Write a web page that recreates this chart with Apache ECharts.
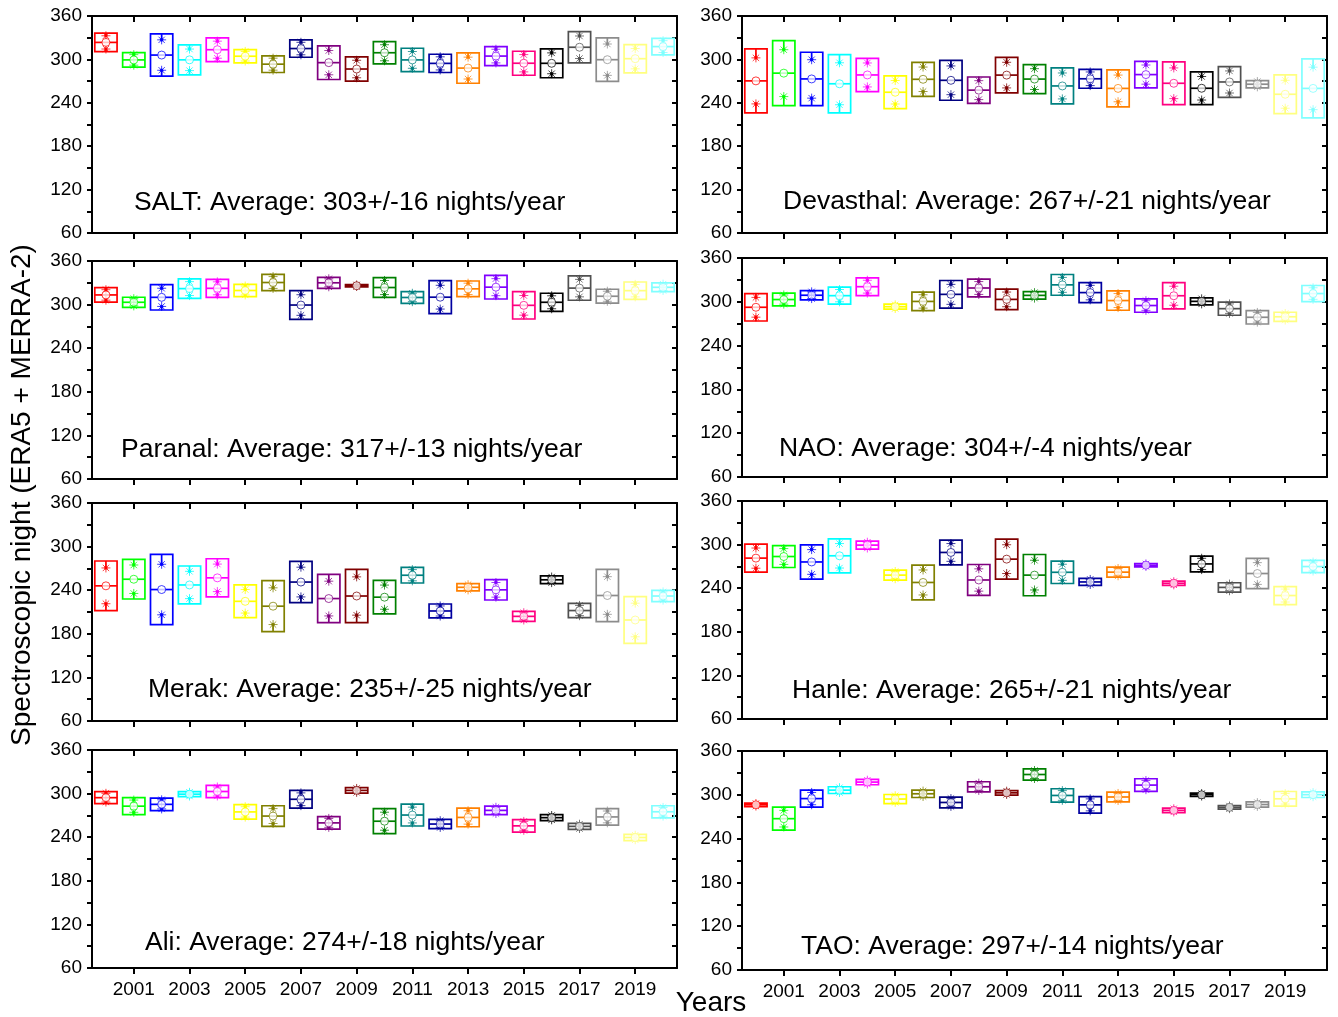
<!DOCTYPE html>
<html><head><meta charset="utf-8">
<script src="https://cdn.jsdelivr.net/npm/echarts@6/dist/echarts.min.js"></script>
<style>html,body{margin:0;padding:0;background:#fff}#c{width:1338px;height:1017px}</style>
</head><body><div id="c"></div>
<script>
// ---------------- data ----------------
const years = ['2000','2001','2002','2003','2004','2005','2006','2007','2008','2009','2010',
               '2011','2012','2013','2014','2015','2016','2017','2018','2019','2020'];
const yTickLabels = [60, 120, 180, 240, 300, 360];
const boxColors = ['#FF0000','#00FF00','#0000FF','#00FFFF','#FF00FF','#FFFF00','#808000','#000080',
                   '#800080','#800000','#008000','#008080','#0000A0','#FF8000','#8000FF','#FF0080',
                   '#000000','#505050','#8C8C8C','#FFFF80','#80FFFF'];

// mean (circle / median line) and half box height (+/- spread) per year
const saltMean = [323.5,299.3,306,299.4,313.4,304.4,293.4,315,295.5,286.7,309.2,299.3,294.5,288,304.6,294.7,294.6,316.8,299.6,301,317.7];
const saltSd   = [12.7,10.1,29.2,20.7,16.4,9.2,11.5,12,23.3,16.8,15.4,16.1,12.6,21,13.1,16.6,20,21.6,30.1,19.5,11.4];
const devMean  = [270.3,281,273,266.3,278.5,254.6,272.5,271.1,257.5,278.3,272.8,263.3,273.2,259.9,279,267,260.1,268.8,265.7,251.8,259.9];
const devSd    = [44.2,45,36.9,40.3,23,22.6,23.5,27.6,18.2,24.6,20,24.9,13.1,25.6,18.4,29.5,22.6,21.2,5,26.8,40.8];
const parMean  = [313.3,303.2,310,322,322.4,319.4,330.4,299.4,330,326,323.5,309.8,310.2,321.7,324,299,303.2,322.7,311.5,319.2,323.8];
const parSd    = [10,6.9,17.4,13.3,12.4,8.5,11.3,19.7,7.6,1.5,13.5,8,22.7,10.8,16.3,18.8,12.4,16.7,9.6,11.9,6];
const naoMean  = [292.5,303.1,309,308.4,320.7,293.3,300.5,310.2,318.9,303.3,308.8,323.2,312.6,301.7,294.9,308.3,300.6,290.6,278.8,279.5,311.3];
const naoSd    = [18.8,8.7,6.4,11.7,12.2,3.4,12.7,19,12.2,14,5.2,14.2,13.8,13.3,9.2,18.1,4.8,9,9.2,6.2,11];
const merMean  = [246,255.1,240.9,247.2,257,224.7,218,251.2,228.5,232,230.4,260.6,211.4,244,240.5,204,254.3,212,232.7,199,232];
const merSd    = [34.2,27.2,48.3,26.1,26.3,22.5,35.1,28.4,33.2,36.6,23.1,10.7,9.6,5,14,6.9,5.3,9.8,36,32.1,7.8];
const hanMean  = [281.4,283.6,276.1,284.6,299.3,258,247.9,289.2,251.3,280,258,261.9,248.6,262.1,271.7,246.8,273.4,241.1,260.2,229.9,269.8];
const hanSd    = [19.3,15.1,23.6,23.4,5.5,6.9,23.9,17,21.3,27.5,28.4,15.4,4.8,6.9,2.3,3,10.8,6.4,20.8,12.4,8.5];
const aliMean  = [294.4,282.7,285.2,299.2,302.9,274.8,269.1,292.2,259.7,304.4,262,270.5,258.1,267.2,276.9,255.6,266.9,254.9,267.9,239.6,275];
const aliSd    = [8.3,11.7,8.7,3.5,8.5,9.9,14.2,12.2,8.5,3.7,17.2,15.1,6.4,12.8,5.9,8.5,4.1,4.1,11.3,4.3,8.3];
const taoMean  = [286.3,267.3,294.8,306.4,317.4,294.2,301.4,289.5,311,302.7,327.8,299.1,286.2,297,313.3,278.7,300,282.8,286.7,294.5,300.2];
const taoSd    = [2.4,15.8,11.7,4.6,3.6,6.2,5.1,7.4,6.9,3.1,7.6,9.2,11.4,6.7,8.7,3,2.3,2.5,3.6,10,3.9];

const panelLabels = ['SALT: Average: 303+/-16 nights/year','Devasthal: Average: 267+/-21 nights/year',
                     'Paranal: Average: 317+/-13 nights/year','NAO: Average: 304+/-4 nights/year',
                     'Merak: Average: 235+/-25 nights/year','Hanle: Average: 265+/-21 nights/year',
                     'Ali: Average: 274+/-18 nights/year','TAO: Average: 297+/-14 nights/year'];
const yTitle = 'Spectroscopic night (ERA5 + MERRA-2)';
const xTitle = 'Years';

// ---------------- layout ----------------
const FONT = '"Liberation Sans", Arial, sans-serif';
const panelData = [[saltMean,saltSd],[devMean,devSd],[parMean,parSd],[naoMean,naoSd],
                   [merMean,merSd],[hanMean,hanSd],[aliMean,aliSd],[taoMean,taoSd]];
const layout = [
  {left:92, top:16, width:585, height:217, lx:134, ly:203},
  {left:742, top:16, width:585, height:217, lx:783, ly:202},
  {left:92, top:261, width:585, height:218, lx:121, ly:450},
  {left:742, top:258, width:585, height:219, lx:779, ly:449},
  {left:92, top:503, width:585, height:218, lx:148, ly:690},
  {left:742, top:501, width:585, height:218, lx:792, ly:691},
  {left:92, top:750, width:585, height:218, lx:145, ly:943},
  {left:742, top:751, width:585, height:219, lx:801, ly:947}
];

function star(cx, cy, col) {
  const r = 4.5, out = [];
  for (let k = 0; k < 4; k++) {
    const a = k * Math.PI / 4;
    out.push({type:'line', shape:{x1:cx - r*Math.cos(a), y1:cy - r*Math.sin(a), x2:cx + r*Math.cos(a), y2:cy + r*Math.sin(a)},
              style:{stroke:col, lineWidth:1, opacity:0.75}});
  }
  out.push({type:'circle', shape:{cx:cx, cy:cy, r:1.8}, style:{fill:col, opacity:0.9}});
  return out;
}

function renderBox(params, api) {
  const i = api.value(0), m = api.value(1), s = api.value(2);
  const col = boxColors[i];
  const c = api.coord([i, m]);
  const t = api.coord([i, m + s])[1];
  const b = api.coord([i, m - s])[1];
  const st = api.coord([i, m + 0.72 * s])[1];
  const sb = api.coord([i, m - 0.72 * s])[1];
  const w = api.size([1, 0])[0] * 0.8;
  const x0 = c[0] - w / 2;
  const lw = 1.7;
  let children = [
    {type:'rect', shape:{x:x0, y:t, width:w, height:Math.max(b - t, 0.5)}, style:{fill:'none', stroke:col, lineWidth:lw}},
    {type:'line', shape:{x1:x0, y1:c[1], x2:x0 + w, y2:c[1]}, style:{stroke:col, lineWidth:lw}},
    {type:'line', shape:{x1:c[0], y1:t, x2:c[0], y2:st}, style:{stroke:col, lineWidth:lw}},
    {type:'line', shape:{x1:c[0], y1:b, x2:c[0], y2:sb}, style:{stroke:col, lineWidth:lw}}
  ];
  children = children.concat(star(c[0], st, col), star(c[0], sb, col));
  children.push({type:'circle', shape:{cx:c[0], cy:c[1], r:4}, style:{fill:'#fff', stroke:col, lineWidth:1, opacity:0.75}});
  return {type:'group', children:children};
}

const grids = [], xAxes = [], yAxes = [], series = [], graphics = [];
const oddYear = (idx) => idx % 2 === 1;
layout.forEach((L, p) => {
  grids.push({left:L.left, top:L.top, width:L.width, height:L.height, containLabel:false, outerBoundsMode:'none'});
  const axLine = {show:true, lineStyle:{color:'#000', width:2}};
  xAxes.push({gridIndex:p, type:'category', data:years, position:'bottom', boundaryGap:true,
    axisLine:axLine,
    axisTick:{show:true, inside:false, length:6, alignWithLabel:true, interval:oddYear, lineStyle:{color:'#000', width:2}},
    axisLabel:{show:p >= 6, interval:oddYear, color:'#000', fontSize:19, fontFamily:FONT, margin:12, hideOverlap:false},
    splitLine:{show:false}});
  xAxes.push({gridIndex:p, type:'category', data:years, position:'top', boundaryGap:true,
    axisLine:axLine,
    axisTick:{show:true, inside:true, length:6, alignWithLabel:true, interval:oddYear, lineStyle:{color:'#000', width:2}},
    axisLabel:{show:false}, splitLine:{show:false}});
  yAxes.push({gridIndex:p, type:'value', min:60, max:360, interval:30, position:'left',
    axisLine:axLine,
    axisTick:{show:true, inside:false, length:5, lineStyle:{color:'#000', width:2}},
    axisLabel:{color:'#000', fontSize:19, fontFamily:FONT, margin:10, hideOverlap:false,
               formatter:(v) => yTickLabels.includes(v) ? String(v) : ''},
    splitLine:{show:false}});
  yAxes.push({gridIndex:p, type:'value', min:60, max:360, interval:30, position:'right',
    axisLine:axLine,
    axisTick:{show:true, inside:true, length:5, lineStyle:{color:'#000', width:2}},
    axisLabel:{show:false}, splitLine:{show:false}});
  const [means, sds] = panelData[p];
  series.push({type:'custom', xAxisIndex:2*p, yAxisIndex:2*p, renderItem:renderBox,
    encode:{x:0, y:1}, clip:false, silent:true,
    data:means.map((m, i) => [i, m, sds[i]])});
  graphics.push({type:'text', x:L.lx, y:L.ly,
    style:{text:panelLabels[p], font:'26.5px ' + FONT, fill:'#000', textAlign:'left', textVerticalAlign:'middle', align:'left', verticalAlign:'middle'}});
});
graphics.push({type:'text', x:22, y:495, rotation:Math.PI/2,
  style:{text:yTitle, font:'28px ' + FONT, fill:'#000', textAlign:'center', textVerticalAlign:'middle', align:'center', verticalAlign:'middle'}});
graphics.push({type:'text', x:711, y:1003,
  style:{text:xTitle, font:'28px ' + FONT, fill:'#000', textAlign:'center', textVerticalAlign:'middle', align:'center', verticalAlign:'middle'}});

const chart = echarts.init(document.getElementById('c'), null, {renderer:'canvas'});
chart.setOption({
  animation:false,
  backgroundColor:'#fff',
  grid:grids, xAxis:xAxes, yAxis:yAxes, series:series, graphic:graphics
});
</script></body></html>
